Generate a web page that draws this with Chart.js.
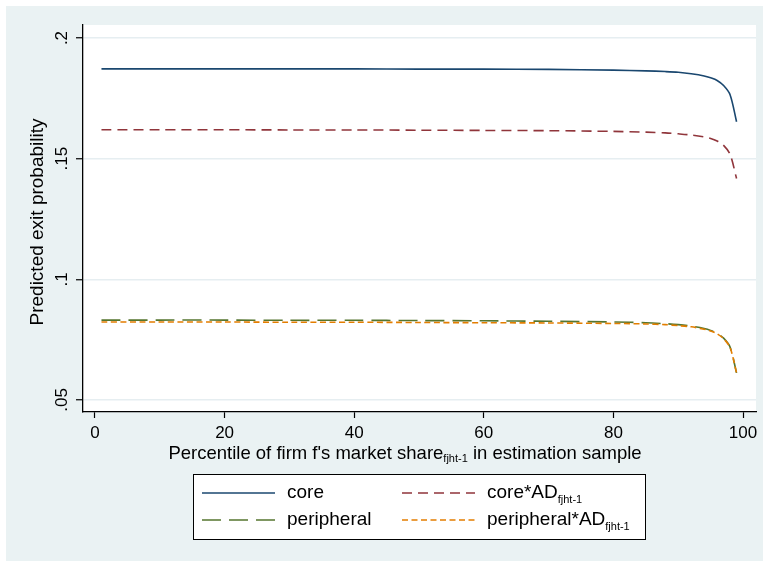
<!DOCTYPE html>
<html>
<head>
<meta charset="utf-8">
<script src="https://cdn.jsdelivr.net/npm/chart.js@4/dist/chart.umd.min.js"></script>
<style>
  html, body { margin: 0; padding: 0; background: #ffffff; }
  #wrap { width: 763px; height: 561px; }
</style>
</head>
<body>
<div id="wrap"><canvas id="c" width="763" height="561"></canvas></div>
<script>
// Percentile of firm's market share (x) and predicted exit probability per group
const percentiles = [1, 10, 20, 30, 40, 50, 60, 70, 80, 85, 88, 90, 92, 94, 95, 96, 97, 98, 99];
const core =         [0.1872, 0.1872, 0.1872, 0.1872, 0.1872, 0.1871, 0.1871, 0.1870, 0.1867, 0.1864, 0.1861, 0.1858, 0.1852, 0.1843, 0.1835, 0.1824, 0.1803, 0.1765, 0.1653];
const coreAD =       [0.1620, 0.1620, 0.1620, 0.1619, 0.1619, 0.1618, 0.1617, 0.1616, 0.1613, 0.1610, 0.1607, 0.1603, 0.1598, 0.1590, 0.1584, 0.1573, 0.1555, 0.1518, 0.1418];
const peripheral =   [0.0831, 0.0831, 0.0831, 0.0830, 0.0830, 0.0829, 0.0828, 0.0826, 0.0823, 0.0820, 0.0816, 0.0812, 0.0806, 0.0796, 0.0788, 0.0776, 0.0756, 0.0719, 0.0612];
const peripheralAD = [0.0823, 0.0823, 0.0823, 0.0822, 0.0822, 0.0821, 0.0820, 0.0819, 0.0817, 0.0815, 0.0812, 0.0808, 0.0803, 0.0793, 0.0786, 0.0774, 0.0754, 0.0717, 0.0612];

const xTicks = [0, 20, 40, 60, 80, 100];
const yTicks = [0.05, 0.10, 0.15, 0.20];
const yTickLabels = ['.05', '.1', '.15', '.2'];

// legend entries: main text and subscript
const seriesNames = ['core', 'core*AD', 'peripheral', 'peripheral*AD'];
const seriesSubs = ['', 'fjht-1', '', 'fjht-1'];

const FONT = '"Liberation Sans", Arial, Helvetica, sans-serif';
const BG = '#eaf2f3';

function pts(ys) { return percentiles.map((x, i) => ({ x: x, y: ys[i] })); }

const datasets = [
  { label: seriesNames[0], data: pts(core), borderColor: '#1a476f', borderDash: [], order: 4 },
  { label: seriesNames[1], data: pts(coreAD), borderColor: '#90353b', borderDash: [10, 6], order: 3 },
  { label: seriesNames[2], data: pts(peripheral), borderColor: '#55752f', borderDash: [19, 8], order: 2 },
  { label: seriesNames[3], data: pts(peripheralAD), borderColor: '#e37e00', borderDash: [6, 3.5], order: 1 }
].map(d => Object.assign(d, {
  showLine: true, pointRadius: 0, borderWidth: 1.6, tension: 0.3, fill: false
}));

const decor = {
  id: 'decor',
  beforeDraw(chart) {
    const ctx = chart.ctx, a = chart.chartArea;
    ctx.save();
    ctx.fillStyle = '#ffffff';
    ctx.fillRect(0, 0, chart.width, chart.height);
    ctx.fillStyle = BG;
    ctx.fillRect(6, 6, chart.width - 6, chart.height - 6);
    ctx.fillStyle = '#ffffff';
    ctx.fillRect(a.left, a.top, a.right - a.left, a.bottom - a.top);
    ctx.restore();
  },
  afterDraw(chart) {
    const ctx = chart.ctx;
    const ys = chart.scales.y;
    ctx.save();
    ctx.fillStyle = '#000';
    // y tick labels, rotated
    ctx.font = '17px ' + FONT;
    ctx.textAlign = 'center';
    ctx.textBaseline = 'middle';
    yTicks.forEach((v, i) => {
      const py = ys.getPixelForValue(v);
      ctx.save();
      ctx.translate(62, py);
      ctx.rotate(-Math.PI / 2);
      ctx.fillText(yTickLabels[i], 0, 0);
      ctx.restore();
    });
    // y axis title
    ctx.save();
    ctx.font = '19px ' + FONT;
    ctx.translate(38, 222);
    ctx.rotate(-Math.PI / 2);
    ctx.fillText('Predicted exit probability', 0, 0);
    ctx.restore();

    // x axis title with subscript
    const size = 18.5, subSize = 11;
    const t1 = "Percentile of firm f's market share", t2 = 'fjht-1', t3 = ' in estimation sample';
    ctx.font = size + 'px ' + FONT;
    const w1 = ctx.measureText(t1).width, w3 = ctx.measureText(t3).width;
    ctx.font = subSize + 'px ' + FONT;
    const w2 = ctx.measureText(t2).width;
    const x0 = 405 - (w1 + w2 + w3) / 2;
    const by = 459;
    ctx.textAlign = 'left';
    ctx.textBaseline = 'alphabetic';
    ctx.font = size + 'px ' + FONT;
    ctx.fillText(t1, x0, by);
    ctx.font = subSize + 'px ' + FONT;
    ctx.fillText(t2, x0 + w1, by + 3);
    ctx.font = size + 'px ' + FONT;
    ctx.fillText(t3, x0 + w1 + w2, by);

    // legend box
    const lsize = 19;
    const L = { x: 193, y: 474, w: 452, h: 65 };
    ctx.fillStyle = '#ffffff';
    ctx.fillRect(L.x, L.y, L.w, L.h);
    ctx.strokeStyle = '#000';
    ctx.lineWidth = 1;
    ctx.strokeRect(L.x + 0.5, L.y + 0.5, L.w, L.h);
    const cols = [{ lx0: 202, lx1: 275, tx: 287 }, { lx0: 402, lx1: 475, tx: 487 }];
    const rows = [493, 520];
    chart.data.datasets.forEach((ds, i) => {
      const c = cols[i % 2], ry = rows[Math.floor(i / 2)];
      ctx.save();
      ctx.strokeStyle = ds.borderColor;
      ctx.lineWidth = ds.borderWidth;
      ctx.setLineDash(ds.borderDash);
      ctx.beginPath();
      ctx.moveTo(c.lx0, ry);
      ctx.lineTo(c.lx1, ry);
      ctx.stroke();
      ctx.restore();
      ctx.fillStyle = '#000';
      ctx.textAlign = 'left';
      ctx.textBaseline = 'middle';
      ctx.font = lsize + 'px ' + FONT;
      ctx.fillText(seriesNames[i], c.tx, ry);
      if (seriesSubs[i]) {
        const wm = ctx.measureText(seriesNames[i]).width;
        ctx.font = subSize + 'px ' + FONT;
        ctx.fillText(seriesSubs[i], c.tx + wm, ry + 7);
      }
    });
    ctx.restore();
  }
};

new Chart(document.getElementById('c'), {
  type: 'scatter',
  data: { datasets },
  options: {
    responsive: false,
    animation: false,
    layout: { padding: { left: 0, top: 25, right: 7, bottom: 0 } },
    plugins: { legend: { display: false }, tooltip: { enabled: false } },
    scales: {
      x: {
        type: 'linear', min: -1.85, max: 102,
        afterBuildTicks: s => { s.ticks = xTicks.map(v => ({ value: v })); },
        afterFit: s => { s.height = 149; },
        grid: { drawOnChartArea: false, drawTicks: true, tickLength: 6, tickColor: '#000', tickWidth: 1.2 },
        border: { display: true, color: '#000', width: 1.3 },
        ticks: { color: '#000', font: { family: FONT, size: 17 }, padding: 5, maxRotation: 0, autoSkip: false }
      },
      y: {
        type: 'linear', min: 0.045, max: 0.2054,
        afterBuildTicks: s => { s.ticks = yTicks.map(v => ({ value: v })); },
        afterFit: s => { s.width = 83; },
        grid: { drawOnChartArea: true, color: '#e6eef1', lineWidth: 1.5, drawTicks: true, tickLength: 7, tickColor: '#000', tickWidth: 1.2 },
        border: { display: true, color: '#000', width: 1.3 },
        ticks: { display: false }
      }
    }
  },
  plugins: [decor]
});
</script>
</body>
</html>
